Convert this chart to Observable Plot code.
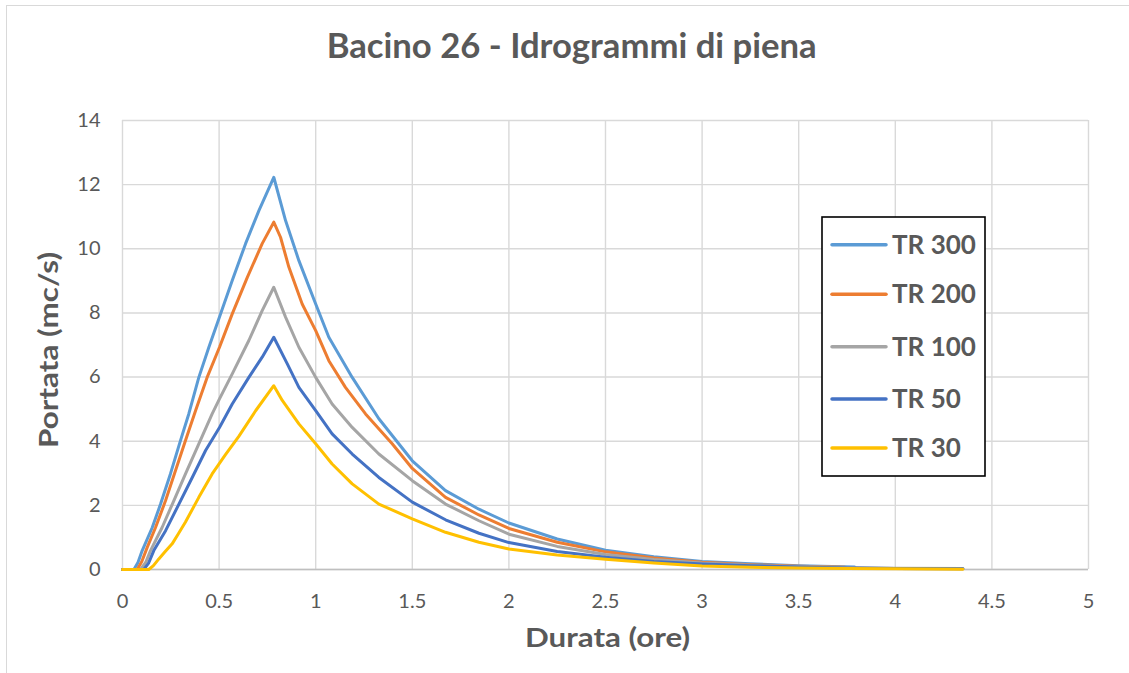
<!DOCTYPE html>
<html><head><meta charset="utf-8">
<script src="https://cdn.jsdelivr.net/npm/d3@7"></script>
<script src="https://cdn.jsdelivr.net/npm/@observablehq/plot@0.6"></script>
<style>
html,body{margin:0;padding:0;background:#fff;}
#wrap{position:relative;width:1129px;height:673px;overflow:hidden;background:#fff;font-family:Lato,"Open Sans",sans-serif;}
#border{position:absolute;left:6px;top:5px;width:1300px;height:800px;border:1px solid #d9d9d9;box-sizing:border-box;}
#chart{position:absolute;left:0;top:0;}
#overlay{position:absolute;left:0;top:0;}
</style></head>
<body><div id="wrap"><div id="border"></div><div id="chart"></div><svg id="overlay" width="1129" height="673"></svg></div>
<script>
const chartTitle = "Bacino 26 - Idrogrammi di piena";
const xTitle = "Durata (ore)";
const yTitle = "Portata (mc/s)";
const seriesNames = ["TR 300", "TR 200", "TR 100", "TR 50", "TR 30"];
const seriesColors = ["#5B9BD5", "#ED7D31", "#A5A5A5", "#4472C4", "#FFC000"];
const xTicks = [0, 0.5, 1, 1.5, 2, 2.5, 3, 3.5, 4, 4.5, 5];
const yTicks = [0, 2, 4, 6, 8, 10, 12, 14];

const tr300T = [0, 0.059, 0.080, 0.102, 0.154, 0.197, 0.248, 0.300, 0.343, 0.395, 0.447, 0.502, 0.568, 0.637, 0.706, 0.783, 0.844, 0.913, 1.0, 1.068, 1.189, 1.327, 1.5, 1.672, 1.845, 2.0, 2.25, 2.5, 2.75, 3.0, 3.25, 3.5, 3.79];
const tr300Q = [0, 0, 0.22, 0.59, 1.31, 2.04, 2.98, 4.02, 4.85, 5.99, 6.93, 7.87, 9.01, 10.16, 11.19, 12.23, 10.88, 9.63, 8.28, 7.24, 5.99, 4.70, 3.39, 2.46, 1.88, 1.45, 0.95, 0.60, 0.40, 0.25, 0.18, 0.12, 0.08];

const tr200T = [0, 0.076, 0.100, 0.128, 0.171, 0.223, 0.274, 0.326, 0.378, 0.438, 0.502, 0.568, 0.646, 0.723, 0.783, 0.818, 0.861, 0.930, 1.0, 1.068, 1.154, 1.258, 1.396, 1.5, 1.672, 1.845, 2.0, 2.25, 2.5, 2.75, 3.0, 3.25, 3.5, 3.74];
const tr200Q = [0, 0, 0.25, 0.69, 1.31, 2.15, 3.08, 4.02, 4.95, 5.99, 6.93, 7.97, 9.11, 10.16, 10.83, 10.36, 9.43, 8.28, 7.45, 6.51, 5.68, 4.85, 3.92, 3.15, 2.25, 1.70, 1.28, 0.85, 0.55, 0.36, 0.23, 0.15, 0.10, 0.07];

const tr100T = [0, 0.093, 0.120, 0.145, 0.205, 0.266, 0.326, 0.395, 0.464, 0.502, 0.568, 0.654, 0.723, 0.783, 0.844, 0.913, 1.0, 1.085, 1.189, 1.327, 1.5, 1.672, 1.845, 2.0, 2.25, 2.5, 2.75, 3.0, 3.25, 3.5, 3.75, 4.0, 4.35];
const tr100Q = [0, 0, 0.22, 0.59, 1.31, 2.15, 2.98, 3.92, 4.85, 5.32, 6.10, 7.14, 8.07, 8.80, 7.87, 6.93, 5.99, 5.16, 4.43, 3.60, 2.77, 2.04, 1.52, 1.10, 0.72, 0.47, 0.31, 0.20, 0.13, 0.09, 0.06, 0.04, 0.03];

const tr50T = [0, 0.110, 0.135, 0.162, 0.223, 0.292, 0.361, 0.430, 0.502, 0.568, 0.654, 0.723, 0.783, 0.853, 0.913, 1.0, 1.085, 1.189, 1.327, 1.5, 1.672, 1.845, 2.0, 2.25, 2.5, 2.75, 3.0, 3.25, 3.5, 3.75, 4.0, 4.35];
const tr50Q = [0, 0, 0.20, 0.59, 1.21, 2.04, 2.87, 3.71, 4.43, 5.16, 5.99, 6.62, 7.24, 6.41, 5.68, 4.95, 4.23, 3.60, 2.87, 2.10, 1.55, 1.13, 0.84, 0.56, 0.38, 0.25, 0.17, 0.12, 0.08, 0.05, 0.03, 0.02];

const tr30T = [0, 0.136, 0.160, 0.188, 0.220, 0.257, 0.290, 0.326, 0.395, 0.464, 0.533, 0.602, 0.689, 0.783, 0.827, 0.913, 1.0, 1.085, 1.189, 1.327, 1.5, 1.672, 1.845, 2.0, 2.25, 2.5, 2.75, 3.0, 3.25, 3.5, 3.75, 4.0, 4.35];
const tr30Q = [0, 0, 0.12, 0.33, 0.55, 0.80, 1.12, 1.48, 2.25, 2.98, 3.58, 4.15, 4.95, 5.73, 5.27, 4.54, 3.92, 3.29, 2.67, 2.04, 1.58, 1.16, 0.85, 0.64, 0.45, 0.32, 0.20, 0.11, 0.07, 0.05, 0.03, 0.02, 0.01];

const seriesData = [[tr300T, tr300Q], [tr200T, tr200Q], [tr100T, tr100Q], [tr50T, tr50Q], [tr30T, tr30Q]];
const rows = [];
seriesData.forEach(([t, q], i) => t.forEach((x, j) => rows.push({series: seriesNames[i], t: x, q: q[j]})));

const W = 1129, H = 673, ML = 122, MR = 41, MT = 120, MB = 104;
const plot = Plot.plot({
  width: W, height: H,
  marginLeft: ML, marginRight: MR, marginTop: MT, marginBottom: MB,
  style: {fontFamily: "Lato, 'Open Sans', sans-serif", fontSize: "20px", color: "#595959", background: "transparent", overflow: "visible"},
  x: {domain: [0, 5], ticks: xTicks, tickSize: 0, tickPadding: 24, label: null, tickFormat: d => String(d)},
  y: {domain: [0, 14], ticks: yTicks, tickSize: 0, tickPadding: 22, label: null},
  color: {domain: seriesNames, range: seriesColors},
  marks: [
    Plot.gridX(xTicks, {stroke: "#d9d9d9", strokeOpacity: 1, strokeWidth: 1.4}),
    Plot.gridY(yTicks, {stroke: "#d9d9d9", strokeOpacity: 1, strokeWidth: 1.4}),
    Plot.ruleY([0], {stroke: "#bfbfbf", strokeWidth: 1.5}),
    Plot.line(rows, {x: "t", y: "q", z: "series", stroke: "series", strokeWidth: 3, strokeLinejoin: "round", strokeLinecap: "round"})
  ]
});
document.getElementById("chart").appendChild(plot);

const ov = d3.select("#overlay");
const txtColor = "#595959";
// chart title
ov.append("text").attr("x", 571.7).attr("y", 58).attr("text-anchor", "middle")
  .attr("font-family", "Lato, sans-serif").attr("font-weight", "bold").attr("font-size", 34)
  .attr("fill", txtColor).attr("textLength", 490).attr("lengthAdjust", "spacingAndGlyphs").text(chartTitle);
// x title
ov.append("text").attr("x", 607.5).attr("y", 647).attr("text-anchor", "middle")
  .attr("font-family", "Lato, sans-serif").attr("font-weight", "bold").attr("font-size", 26)
  .attr("fill", txtColor).attr("textLength", 165).attr("lengthAdjust", "spacingAndGlyphs").text(xTitle);
// y title
ov.append("text").attr("transform", "translate(58,350) rotate(-90)").attr("text-anchor", "middle")
  .attr("font-family", "Lato, sans-serif").attr("font-weight", "bold").attr("font-size", 26)
  .attr("fill", txtColor).attr("textLength", 196).attr("lengthAdjust", "spacingAndGlyphs").text(yTitle);
// legend
const lg = ov.append("g");
lg.append("rect").attr("x", 822).attr("y", 217).attr("width", 163).attr("height", 259)
  .attr("fill", "#fff").attr("stroke", "#000").attr("stroke-width", 1.6);
const legendY = [244.7, 294.3, 346.7, 399, 448];
seriesNames.forEach((name, i) => {
  lg.append("line").attr("x1", 832).attr("x2", 886).attr("y1", legendY[i]).attr("y2", legendY[i])
    .attr("stroke", seriesColors[i]).attr("stroke-width", 3.5).attr("stroke-linecap", "round");
  lg.append("text").attr("x", 892).attr("y", legendY[i] + 9)
    .attr("font-family", "Lato, sans-serif").attr("font-weight", "bold").attr("font-size", 26)
    .attr("fill", txtColor).text(name);
});
</script>
</body></html>
